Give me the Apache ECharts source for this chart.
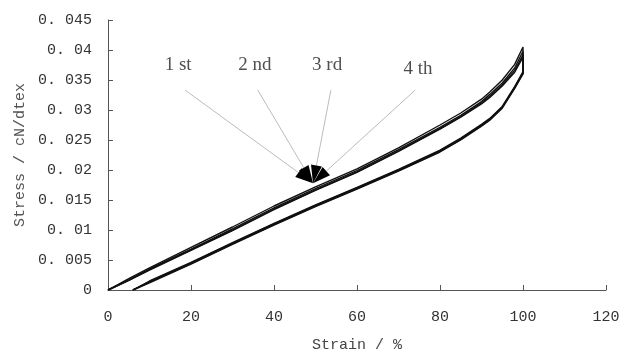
<!DOCTYPE html>
<html>
<head>
<meta charset="utf-8">
<script src="https://cdn.jsdelivr.net/npm/echarts@6/dist/echarts.min.js"></script>
<style>
    html, body { margin: 0; padding: 0; background: #fff; }
    #chart { width: 623px; height: 357px; }
</style>
</head>
<body>
<div id="chart"></div>
<script>
// strain (%) for loading and unloading legs
const loadStrain = [0, 5, 10, 20, 30, 40, 50, 60, 70, 80, 85, 90, 92, 95, 98, 100];
const unloadStrain = [100, 98, 95, 92, 90, 85, 80, 70, 60, 50, 40, 30, 20, 10, 6];

// stress (cN/dtex), one loading leg per cycle
const load1 = [0, 0.0019, 0.0037, 0.0071, 0.0105, 0.0140, 0.0172, 0.0202, 0.0237, 0.0275, 0.0295, 0.0318, 0.0330, 0.0350, 0.0376, 0.0405];
const load2 = [0, 0.0017, 0.0035, 0.0068, 0.0102, 0.0137, 0.0169, 0.0199, 0.0234, 0.0271, 0.0291, 0.0314, 0.0326, 0.0345, 0.0370, 0.0398];
const load3 = [0, 0.0016, 0.0034, 0.0067, 0.0100, 0.0135, 0.0167, 0.0197, 0.0232, 0.0269, 0.0289, 0.0312, 0.0323, 0.0342, 0.0366, 0.0392];
const load4 = [0, 0.0016, 0.0033, 0.0066, 0.0099, 0.0134, 0.0166, 0.0196, 0.0231, 0.0268, 0.0288, 0.0310, 0.0321, 0.0340, 0.0363, 0.0388];
// unloading legs (nearly identical for every cycle)
const unload1 = [0.0364, 0.0339, 0.0306, 0.0286, 0.0276, 0.0253, 0.0233, 0.0201, 0.0171, 0.0142, 0.0111, 0.0079, 0.0046, 0.0015, 0];
const unload2 = [0.0362, 0.0338, 0.0305, 0.0285, 0.0275, 0.0252, 0.0232, 0.0200, 0.0170, 0.0141, 0.0110, 0.0078, 0.0045, 0.0014, 0];
const unload3 = [0.0361, 0.0337, 0.0304, 0.0284, 0.0274, 0.0251, 0.0231, 0.0199, 0.0169, 0.0140, 0.0109, 0.0077, 0.0044, 0.0013, 0];
const unload4 = [0.0360, 0.0336, 0.0303, 0.0283, 0.0273, 0.0250, 0.0230, 0.0198, 0.0168, 0.0139, 0.0108, 0.0076, 0.0043, 0.0012, 0];

// annotations
const cycleLabels = ['1 st', '2 nd', '3 rd', '4 th'];
const labelPos = [[16.9, 0.0375], [35.4, 0.0375], [52.8, 0.0375], [74.7, 0.0368]];
const arrowFrom = [[18.6, 0.0333], [36.1, 0.0333], [53.7, 0.0333], [74.0, 0.0333]];
const arrowTip = [49.4, 0.0178];

const xTicks = {min: 0, max: 120, interval: 20};
const yTicks = {min: 0, max: 0.045, interval: 0.005};

const loads = [load1, load2, load3, load4];
const unloads = [unload1, unload2, unload3, unload4];

const cycleData = (load, unload) => [
    ...loadStrain.map((x, i) => [x, load[i]]),
    ...unloadStrain.map((x, i) => [x, unload[i]]),
];

const axisColor = '#555';
const monoFont = '"Liberation Mono", "DejaVu Sans Mono", monospace';

const fmtY = (v) => {
    if (v === 0) return '0';
    return String(parseFloat(v.toFixed(3))).replace('.', '. ');
};

// leader line + black wedge head, tip placed on the curve
const renderArrow = (params, api) => {
    const a = api.coord([api.value(0), api.value(1)]);
    const b = api.coord([api.value(2), api.value(3)]);
    const dx = a[0] - b[0];
    const dy = a[1] - b[1];
    const len = Math.sqrt(dx * dx + dy * dy) || 1;
    const ux = dx / len, uy = dy / len;
    const headLen = 18, halfW = 5.5;
    const cx = b[0] + ux * headLen, cy = b[1] + uy * headLen;
    return {
        type: 'group',
        children: [
            {
                type: 'line',
                shape: {x1: a[0], y1: a[1], x2: cx, y2: cy},
                style: {stroke: '#aaa', lineWidth: 0.8},
            },
            {
                type: 'polygon',
                shape: {points: [
                    [b[0], b[1]],
                    [cx - uy * halfW, cy + ux * halfW],
                    [cx + uy * halfW, cy - ux * halfW],
                ]},
                style: {fill: '#000'},
            },
        ],
    };
};

const series = loads.map((load, i) => ({
    type: 'line',
    name: cycleLabels[i],
    data: cycleData(load, unloads[i]),
    showSymbol: false,
    symbol: 'none',
    smooth: false,
    lineStyle: {color: '#111', width: 1.4},
    z: 3,
}));

series.push({
    type: 'custom',
    name: 'arrows',
    data: arrowFrom.map((p) => [p[0], p[1], arrowTip[0], arrowTip[1]]),
    encode: {x: [0, 2], y: [1, 3]},
    renderItem: renderArrow,
    silent: true,
    z: 4,
});

series.push({
    type: 'scatter',
    name: 'labels',
    data: labelPos.map((p, i) => ({value: p, name: cycleLabels[i]})),
    symbolSize: 0,
    silent: true,
    label: {
        show: true,
        position: 'inside',
        formatter: (p) => p.name,
        fontFamily: '"Liberation Serif", "DejaVu Serif", serif',
        fontSize: 19,
        color: '#222',
    },
    z: 4,
});

const chart = echarts.init(document.getElementById('chart'));
chart.setOption({
    animation: false,
    backgroundColor: '#fff',
    grid: {left: 108, right: 17, top: 20, bottom: 67, outerBoundsMode: 'none'},
    xAxis: {
        type: 'value',
        ...xTicks,
        name: 'Strain / %',
        nameLocation: 'middle',
        nameGap: 48,
        nameTextStyle: {fontFamily: monoFont, fontSize: 15, color: '#444'},
        axisLine: {show: true, lineStyle: {color: axisColor, width: 1}},
        axisTick: {show: true, inside: true, length: 5, lineStyle: {color: axisColor}},
        axisLabel: {fontFamily: monoFont, fontSize: 15, color: '#333', margin: 20},
        splitLine: {show: false},
    },
    yAxis: {
        type: 'value',
        ...yTicks,
        name: 'Stress / cN/dtex',
        nameLocation: 'middle',
        nameGap: 78,
        nameTextStyle: {fontFamily: monoFont, fontSize: 15, color: '#555'},
        axisLine: {show: true, lineStyle: {color: axisColor, width: 1}},
        axisTick: {show: true, inside: true, length: 5, lineStyle: {color: axisColor}},
        axisLabel: {fontFamily: monoFont, fontSize: 15, color: '#333', margin: 16, formatter: fmtY},
        splitLine: {show: false},
    },
    series,
});
</script>
</body>
</html>
